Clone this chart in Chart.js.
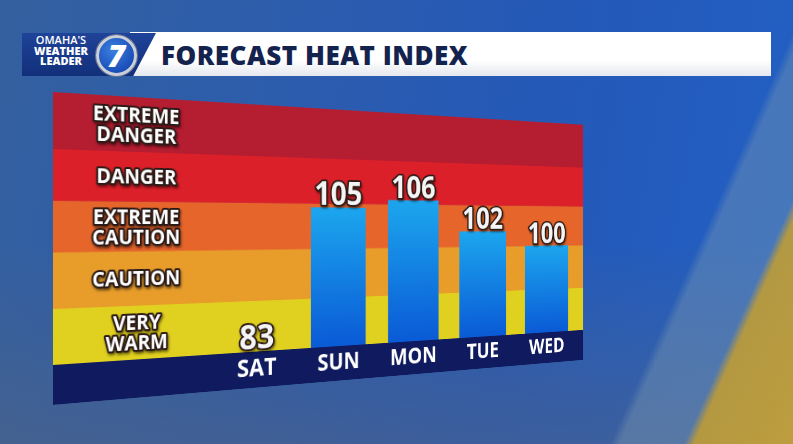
<!DOCTYPE html>
<html>
<head>
<meta charset="utf-8">
<script src="https://cdn.jsdelivr.net/npm/chart.js@4.4.1/dist/chart.umd.min.js"></script>
<style>
html,body{margin:0;padding:0;width:793px;height:444px;overflow:hidden;}
body{position:relative;font-family:'Open Sans',sans-serif;
 background:
  linear-gradient(114deg, rgba(0,0,0,0) 89%, rgba(190,156,54,0.9) 90%, rgba(196,160,56,0.94) 100%),
  linear-gradient(114deg, rgba(0,0,0,0) 81.5%, rgba(140,165,175,0.35) 82.5%, rgba(140,165,175,0.35) 100%),
  linear-gradient(180deg, rgba(0,0,0,0) 55%, rgba(90,100,120,0.45) 100%),
  linear-gradient(100deg, #34609f 0%, #2c5cad 35%, #2459b8 65%, #2260c4 100%);
}
#banner{position:absolute;left:130px;top:32px;width:641px;height:44px;
 background:linear-gradient(180deg,#ffffff 0%,#ffffff 65%,#e4e7ee 100%);}
#title{position:absolute;left:161px;top:32px;height:44px;line-height:46px;
 font-weight:800;font-size:26px;color:#14234e;letter-spacing:0.5px;white-space:nowrap;}
#logo{position:absolute;left:22px;top:33px;width:134px;height:43px;
 background:linear-gradient(180deg,#1f4399 0%,#122f7a 100%);
 clip-path:polygon(0 0,100% 0,83% 100%,0 100%);}
#logotext{position:absolute;left:26px;top:35px;width:70px;text-align:center;color:#fff;
 font-weight:800;font-size:11px;line-height:10.5px;}
#logotext span{display:block;}
#logotext span.thin{font-weight:600;}
#seven{position:absolute;left:96px;top:35px;width:35px;height:35px;border-radius:50%;
 background:radial-gradient(circle at 40% 35%,#3d7fe0 0%,#1a4fb8 70%);
 border:3px solid #c9ced8;box-shadow:0 0 0 1px #6a7690;
 color:#fff;font-weight:800;font-style:italic;font-size:30px;line-height:35px;text-align:center;}
#wrap{position:absolute;left:53px;top:92px;width:717px;height:313px;
 transform-origin:0 132px;transform:perspective(375.5px) rotateY(10deg);}
#chart{display:block;}
</style>
</head>
<body>
<div id="banner"></div>
<div id="title">FORECAST HEAT INDEX</div>
<div id="logo"></div>
<div id="logotext"><span class="thin">OMAHA'S</span><span>WEATHER</span><span>LEADER</span></div>
<div id="seven">7</div>
<div id="wrap"><canvas id="chart" width="717" height="313"></canvas></div>
<script>
// ---- data ----
const days = ['SAT', 'SUN', 'MON', 'TUE', 'WED'];
const heatIndex = [83, 105, 106, 102, 100];
const bandNames = [['VERY', 'WARM'], ['CAUTION'], ['EXTREME', 'CAUTION'], ['DANGER'], ['EXTREME', 'DANGER']];
const bandEdges = [88, 94, 100, 105.5, 111, 117];
const bandColors = ['#e0d01f', '#e89d2b', '#e6652b', '#dc2029', '#b51d31'];
const stripColor = '#0f1b5e';

function outlinedText(ctx, text, x, y, font, fill) {
  ctx.save();
  ctx.font = font;
  ctx.lineJoin = 'round';
  ctx.shadowColor = 'rgba(0,0,0,0.55)';
  ctx.shadowBlur = 3;
  ctx.shadowOffsetX = 1;
  ctx.shadowOffsetY = 2;
  ctx.strokeStyle = '#2b1a16';
  ctx.lineWidth = 4;
  ctx.strokeText(text, x, y);
  ctx.shadowColor = 'rgba(0,0,0,0)';
  ctx.fillStyle = fill;
  ctx.fillText(text, x, y);
  ctx.restore();
}

const bandsPlugin = {
  id: 'bands',
  beforeDraw(chart) {
    const {ctx, chartArea, width, height} = chart;
    const y = chart.scales.y;
    ctx.save();
    for (let i = 0; i < bandColors.length; i++) {
      const top = i === bandColors.length - 1 ? 0 : y.getPixelForValue(bandEdges[i + 1]);
      const bot = y.getPixelForValue(bandEdges[i]);
      ctx.fillStyle = bandColors[i];
      ctx.fillRect(0, top, width, bot - top + 0.5);
    }
    ctx.fillStyle = stripColor;
    ctx.fillRect(0, chartArea.bottom, width, height - chartArea.bottom);
    ctx.textAlign = 'center';
    ctx.textBaseline = 'middle';
    const lx = chartArea.left * 0.505;
    for (let i = 0; i < bandNames.length; i++) {
      const top = i === bandNames.length - 1 ? 0 : y.getPixelForValue(bandEdges[i + 1]);
      const bot = y.getPixelForValue(bandEdges[i]);
      const mid = (top + bot) / 2 + 2;
      const lines = bandNames[i];
      const lh = 21;
      lines.forEach((t, k) => {
        const yy = mid + (k - (lines.length - 1) / 2) * lh;
        outlinedText(ctx, t, lx, yy, 'bold 21px "Open Sans"', '#ffffff');
      });
    }
    ctx.restore();
  },
  afterDatasetsDraw(chart) {
    const {ctx} = chart;
    const y = chart.scales.y;
    const meta = chart.getDatasetMeta(0);
    ctx.save();
    ctx.textAlign = 'center';
    ctx.textBaseline = 'alphabetic';
    meta.data.forEach((bar, i) => {
      const v = heatIndex[i];
      const py = y.getPixelForValue(Math.max(v, y.min)) - 3;
      outlinedText(ctx, String(v), bar.x, py, 'bold 38px "Open Sans"', '#f4f4f4');
    });
    ctx.restore();
  }
};

new Chart(document.getElementById('chart'), {
  type: 'bar',
  data: {
    labels: days,
    datasets: [{
      data: heatIndex,
      barPercentage: 0.7,
      categoryPercentage: 1,
      borderWidth: 0,
      backgroundColor(c) {
        const chart = c.chart;
        const area = chart.chartArea;
        if (!area) return '#1287e6';
        const ys = chart.scales.y;
        const top = ys.getPixelForValue(Math.max(c.raw, ys.min));
        const g = chart.ctx.createLinearGradient(0, top, 0, area.bottom);
        g.addColorStop(0, '#1ca6ee');
        g.addColorStop(1, '#0a5ad6');
        return g;
      }
    }]
  },
  options: {
    responsive: false,
    animation: false,
    events: [],
    devicePixelRatio: 1,
    layout: {padding: {left: 176, right: 11, top: 0, bottom: 0}},
    plugins: {legend: {display: false}, tooltip: {enabled: false}},
    scales: {
      x: {
        grid: {display: false, drawTicks: false},
        border: {display: false},
        ticks: {color: '#ffffff', font: {family: 'Open Sans', weight: 'bold', size: 27}, padding: 3, maxRotation: 0, autoSkip: false},
        afterFit(s) { s.height = 40; }
      },
      y: {display: false, min: 88, max: 117}
    }
  },
  plugins: [bandsPlugin]
});
</script>
</body>
</html>
